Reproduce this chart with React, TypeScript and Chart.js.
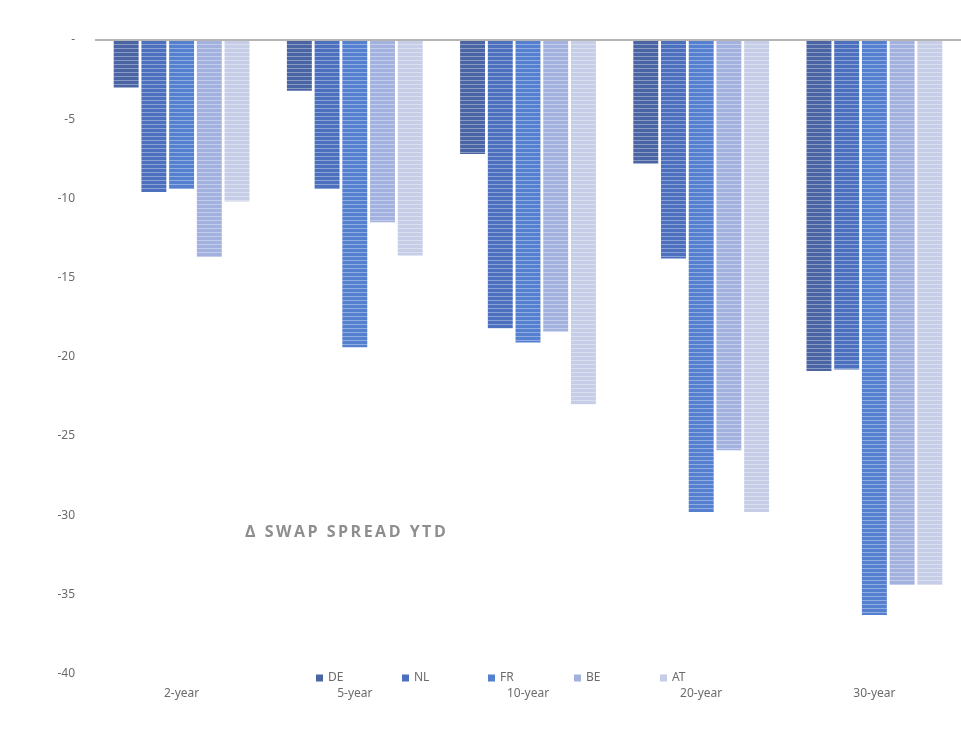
import React, { useEffect, useRef } from "react";
import { Chart, registerables } from "chart.js";

Chart.register(...registerables);

const categories = ["2-year", "5-year", "10-year", "20-year", "30-year"];
const seriesNames = ["DE", "NL", "FR", "BE", "AT"];
const deValues = [-3.0, -3.2, -7.2, -7.8, -20.9];
const nlValues = [-9.6, -9.4, -18.2, -13.8, -20.8];
const frValues = [-9.4, -19.4, -19.1, -29.8, -36.3];
const beValues = [-13.7, -11.5, -18.4, -25.9, -34.4];
const atValues = [-10.2, -13.6, -23.0, -29.8, -34.4];
const seriesColors = ["#4a64a4", "#4c70bd", "#5580cf", "#a3b1df", "#c6cde6"];
const yTicks = [0, -5, -10, -15, -20, -25, -30, -35, -40];
const titleText = "Δ SWAP SPREAD YTD";

function stripePattern(color: string): CanvasPattern | string {
  const c = document.createElement("canvas");
  c.width = 4;
  c.height = 4;
  const ctx = c.getContext("2d");
  if (!ctx) return color;
  ctx.fillStyle = color;
  ctx.fillRect(0, 0, 4, 4);
  ctx.fillStyle = "rgba(255,255,255,0.35)";
  ctx.fillRect(0, 0, 4, 1);
  const p = ctx.createPattern(c, "repeat");
  return p || color;
}

const legendPlugin = {
  id: "customLegend",
  afterDraw(chart: any) {
    const ctx = chart.ctx;
    ctx.save();
    ctx.font = "12px 'Noto Sans'";
    ctx.textBaseline = "middle";
    ctx.textAlign = "left";
    chart.data.datasets.forEach((ds: any, i: number) => {
      const x = 316 + i * 86;
      const y = 678;
      ctx.fillStyle = seriesColors[i];
      ctx.fillRect(x, y - 3.5, 7, 7);
      ctx.fillStyle = "#6b6b6b";
      ctx.fillText(ds.label, x + 12, y);
    });
    ctx.restore();
  },
};

export default function App() {
  const ref = useRef<HTMLCanvasElement | null>(null);
  useEffect(() => {
    if (!ref.current) return;
    const values = [deValues, nlValues, frValues, beValues, atValues];
    const chart = new Chart(ref.current, {
      type: "bar",
      data: {
        labels: categories,
        datasets: seriesNames.map((name, i) => ({
          label: name,
          data: values[i],
          backgroundColor: stripePattern(seriesColors[i]) as any,
          borderWidth: 0,
          categoryPercentage: 0.8,
          barPercentage: 0.9,
        })),
      },
      options: {
        animation: false,
        responsive: false,
        maintainAspectRatio: false,
        layout: { padding: { top: 40, right: 0, bottom: 22, left: 0 } },
        plugins: {
          legend: { display: false },
          tooltip: { enabled: false },
        },
        scales: {
          x: {
            grid: { display: false, drawTicks: false },
            border: { display: false },
            ticks: {
              padding: 13,
              color: "#6b6b6b",
              font: { family: "'Noto Sans'", size: 12 },
            },
          },
          y: {
            min: -40,
            max: 0,
            afterFit(scale: any) {
              scale.width = 95;
            },
            afterBuildTicks(scale: any) {
              scale.ticks = yTicks.map((v) => ({ value: v }));
            },
            grid: {
              drawTicks: false,
              color: (c: any) => (c.tick && c.tick.value === 0 ? "#b4b4b4" : "rgba(0,0,0,0)"),
              lineWidth: (c: any) => (c.tick && c.tick.value === 0 ? 2 : 0),
            },
            border: { display: false },
            ticks: {
              padding: 20,
              color: "#6b6b6b",
              font: { family: "'Noto Sans'", size: 12 },
              callback: (v: any) => (Number(v) === 0 ? "-" : String(v)),
            },
          },
        },
      },
      plugins: [legendPlugin],
    });
    return () => chart.destroy();
  }, []);

  return (
    <div style={{ position: "absolute", left: 0, top: 0, width: 961, height: 736, background: "#fff" }}>
      <canvas ref={ref} width={961} height={736} style={{ display: "block", width: 961, height: 736 }} />
      <div
        style={{
          position: "absolute",
          left: 245,
          top: 520,
          fontFamily: "'Open Sans', sans-serif",
          fontWeight: 700,
          fontSize: 16,
          letterSpacing: 2.5,
          color: "#8e8e8e",
          whiteSpace: "nowrap",
        }}
      >
        {titleText}
      </div>
    </div>
  );
}
